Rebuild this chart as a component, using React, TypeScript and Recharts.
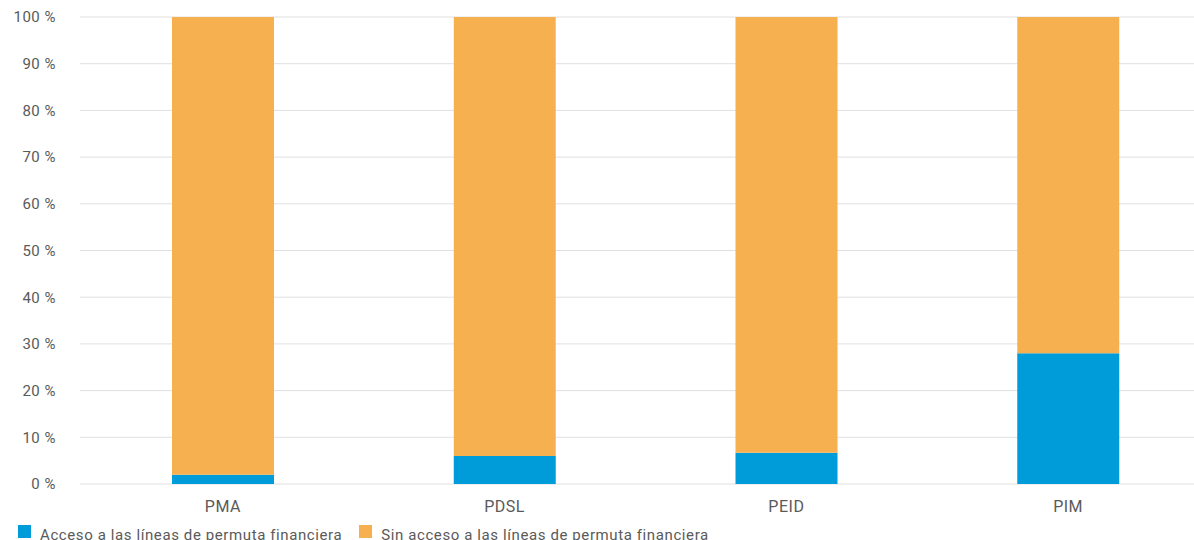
import React from 'react';
import { BarChart, Bar, XAxis, YAxis, CartesianGrid, Legend } from 'recharts';

const categories = ['PMA', 'PDSL', 'PEID', 'PIM'];
const accesoValues = [2, 6, 6.7, 28];
const sinAccesoValues = [98, 94, 93.3, 72];
const yTicks = [0, 10, 20, 30, 40, 50, 60, 70, 80, 90, 100];

const SERIES = [
  { key: 'acceso', name: 'Acceso a las líneas de permuta financiera', color: '#009BD9' },
  { key: 'sin', name: 'Sin acceso a las líneas de permuta financiera', color: '#F7B04F' },
];

const data = categories.map((c, i) => ({
  cat: c,
  acceso: accesoValues[i],
  sin: sinAccesoValues[i],
}));

const FONT = 'Roboto, "Noto Sans", sans-serif';
const TEXT = '#5a5a5a';

const LegendContent = () => (
  <div style={{ display: 'flex', paddingLeft: 18, fontFamily: FONT, fontSize: 15, color: TEXT, letterSpacing: 0.6, height: 18 }}>
    {SERIES.map((s) => (
      <div key={s.key} style={{ display: 'flex', alignItems: 'flex-start', marginRight: 17 }}>
        <span style={{ display: 'inline-block', width: 13, height: 13, marginTop: 2, background: s.color, marginRight: 9, flexShrink: 0 }} />
        <span style={{ lineHeight: '18px', paddingTop: 3, whiteSpace: 'nowrap' }}>{s.name}</span>
      </div>
    ))}
  </div>
);

export default function App() {
  return (
    <div style={{ position: 'absolute', left: 0, top: 0, width: 1194, height: 540, overflow: 'hidden', background: '#fff' }}>
      <BarChart
        width={1209}
        height={545}
        data={data}
        margin={{ top: 17, right: 0, bottom: 4, left: 0 }}
        barCategoryGap={90}
      >
        <CartesianGrid vertical={false} stroke="#e0e0e0" strokeWidth={1} />
        <XAxis
          dataKey="cat"
          axisLine={false}
          tickLine={false}
          tickSize={0}
          tickMargin={17}
          height={39}
          padding={{ left: 2, right: 0 }}
          tick={{ fill: TEXT, fontSize: 16, fontFamily: FONT, letterSpacing: 0.5 }}
        />
        <YAxis
          width={80}
          domain={[0, 100]}
          ticks={yTicks}
          axisLine={false}
          tickLine={false}
          tickSize={0}
          tickMargin={24}
          tickFormatter={(v: number) => `${v} %`}
          tick={{ fill: TEXT, fontSize: 15, fontFamily: FONT, letterSpacing: 0.5 }}
        />
        <Legend verticalAlign="bottom" align="left" height={18} content={<LegendContent />} wrapperStyle={{ left: 0 }} />
        {SERIES.map((s) => (
          <Bar key={s.key} dataKey={s.key} name={s.name} stackId="a" fill={s.color} isAnimationActive={false} />
        ))}
      </BarChart>
    </div>
  );
}
